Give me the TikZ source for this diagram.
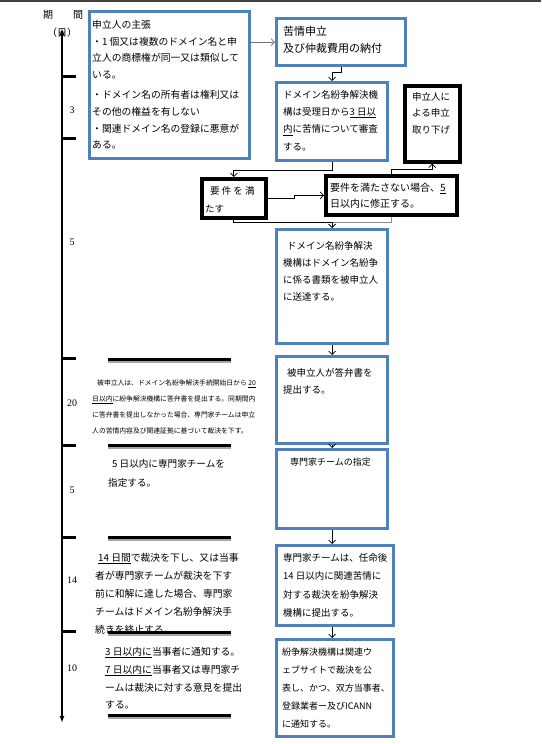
\documentclass[tikz,border=0pt]{standalone}
\usepackage{fontspec}
\setmainfont{Liberation Serif}
\newfontfamily\cjk{Noto Sans CJK JP}
\usepackage{xcolor}
\usepackage{tikz}
\usetikzlibrary{arrows.meta,positioning}
\definecolor{boxblue}{RGB}{79,129,189}

\begin{document}
\begin{tikzpicture}[x=1pt,y=-1pt,
  bluebox/.style={draw=boxblue,line width=3.2pt,anchor=north west,inner sep=0pt},
  blackbox/.style={draw=black,line width=3.6pt,anchor=north west,inner sep=0pt},
  txt/.style={inner sep=0pt,align=left,font=\cjk\fontsize{9.5}{17}\selectfont},
  sidetxt/.style={txt,anchor=north west},
  conn/.style={-{Straight Barb[length=3.5pt,width=7pt]},line width=0.7pt}]
\useasboundingbox (0,0) rectangle (541,744);
\draw[black!75,line width=1.5pt] (0,1.2)--(541,1.2);
\node[font=\cjk\fontsize{10}{12}\selectfont] (head) at (63,15) {期　　間};
\node[font=\cjk\fontsize{10}{12}\selectfont] (unit) at (62,33) {（日）};
\draw[line width=1.6pt,{Latex[length=7pt,width=5pt]}-{Latex[length=7pt,width=5pt]}] (62,28)--(62,723);
\foreach \y in {76,138,358,445,537,631} \draw[line width=3pt] (62,\y)--(76,\y);
\foreach \y/\d [count=\i] in {110/3,242/5,403/20,490/5,580/14,668/10} \node[font=\fontsize{10}{12}\selectfont] (d\i) at (72,\y) {\d};
\foreach \y in {359,445,537,632,715} {\draw[black!35,line width=2pt] (108,\y+2.5)--(231,\y+2.5); \draw[line width=3pt] (108,\y)--(231,\y);}
\node[bluebox,minimum width=160,minimum height=147] (claim) at (88,10) {};
\node[txt,font=\cjk\fontsize{9.8}{16.6}\selectfont,below right=10pt and 4pt of claim.north west] (claimtxt) {申立人の主張\\・1 個又は複数のドメイン名と申\\立人の商標権が同一又は類似して\\いる。\\[4pt]・ドメイン名の所有者は権利又は\\その他の権益を有しない\\・関連ドメイン名の登録に悪意が\\ある。};
\node[bluebox,minimum width=129,minimum height=47] (complaint) at (275,17) {};
\node[txt,font=\cjk\fontsize{11}{17}\selectfont,below right=9pt and 8pt of complaint.north west] (complainttxt) {苦情申立\\及び仲裁費用の納付};
\node[bluebox,minimum width=111,minimum height=78] (review) at (275,81) {};
\node[txt,font=\cjk\fontsize{9.5}{17.3}\selectfont,below right=9pt and 8pt of review.north west] (reviewtxt) {ドメイン名紛争解決機\\構は受理日から\underline{3 日以}\\\underline{内}に苦情について審査\\する。};
\node[blackbox,minimum width=55,minimum height=76] (withdraw) at (403,84) {};
\node[txt,font=\cjk\fontsize{9.5}{16.5}\selectfont,below right=8pt and 9pt of withdraw.north west] (withdrawtxt) {申立人に\\よる申立\\取り下げ};
\node[blackbox,minimum width=64,minimum height=39] (meet) at (200,177) {};
\node[txt,font=\cjk\fontsize{9.5}{18}\selectfont,below right=9pt and 5pt of meet.north west] (meettxt) {\hspace{5pt}要 件 を 満\\たす};
\node[blackbox,minimum width=131,minimum height=39] (fix) at (324,174) {};
\node[txt,font=\cjk\fontsize{10}{16}\selectfont,below right=9pt and 6pt of fix.north west] (fixtxt) {要件を満たさない場合、\underline{5}\\日以内に修正する。};
\node[bluebox,minimum width=111,minimum height=114] (serve) at (275,228) {};
\node[txt,below right=13pt and 8pt of serve.north west] (servetxt) {\hspace{4pt}ドメイン名紛争解決\\機構はドメイン名紛争\\に係る書類を被申立人\\に送達する。};
\node[bluebox,minimum width=111,minimum height=87] (answer) at (275,355) {};
\node[txt,below right=13pt and 8pt of answer.north west] (answertxt) {\hspace{4pt}被申立人が答弁書を\\提出する。};
\node[bluebox,minimum width=111,minimum height=79] (appoint) at (275,448) {};
\node[txt,font=\cjk\fontsize{9}{17}\selectfont,below right=10pt and 15pt of appoint.north west] (appointtxt) {専門家チームの指定};
\node[bluebox,minimum width=117,minimum height=80] (decide) at (275,544) {};
\node[txt,font=\cjk\fontsize{9.5}{18.5}\selectfont,below right=9pt and 8pt of decide.north west] (decidetxt) {専門家チームは、任命後\\14 日以内に関連苦情に\\対する裁決を紛争解決\\機構に提出する。};
\node[bluebox,minimum width=117,minimum height=97] (publish) at (275,638) {};
\node[txt,font=\cjk\fontsize{9}{18}\selectfont,below right=10pt and 7pt of publish.north west] (publishtxt) {紛争解決機構は関連ウ\\ェブサイトで裁決を公\\表し、かつ、双方当事者、\\登録業者ー及びICANN\\に通知する。};
\node[sidetxt,font=\cjk\fontsize{6.8}{15.7}\selectfont] (days20) at (92,380) {\hspace{5pt}被申立人は、ドメイン名紛争解決手続開始日から \underline{20}\\\underline{日以内}に紛争解決機構に答弁書を提出する。同期間内\\に答弁書を提出しなかった場合、専門家チームは申立\\人の苦情内容及び関連証拠に基づいて裁決を下す。};
\node[sidetxt,font=\cjk\fontsize{9.6}{19}\selectfont] (days5) at (108,459) {\hspace{4pt}5 日以内に専門家チームを\\指定する。};
\node[sidetxt,font=\cjk\fontsize{9.8}{18}\selectfont] (days14) at (95,553) {\hspace{3pt}\underline{14 日間}で裁決を下し、又は当事\\者が専門家チームが裁決を下す\\前に和解に達した場合、専門家\\チームはドメイン名紛争解決手\\続きを終止する。};
\node[sidetxt,font=\cjk\fontsize{9.8}{17.8}\selectfont] (days10) at (105,647) {\underline{3 日以内に}当事者に通知する。\\\underline{7 日以内に}当事者又は専門家チ\\ームは裁決に対する意見を提出\\する。};
\draw[conn,black!55] (claim.east |- complaint.west)--(complaint.west);
\draw[conn] (complaint.south)--++(0,5) -| (review.north);
\draw[conn] (review.south)--++(0,8) -| (meet.north);
\draw[conn] (meet.east)--++(27,0) |- (fix.west);
\draw[conn] (fix.north)--++(0,-5) -| (withdraw.south);
\draw[conn,black!45] (fix.south)--++(0,6) -| (serve.north);
\draw[conn] (meet.south)--++(0,3) -| (serve.north);
\draw[conn] (serve.south)--(answer.north);
\draw[conn] (answer.south)--(appoint.north);
\draw[conn] (appoint.south)--(appoint.south |- decide.north);
\draw[conn] (appoint.south |- decide.south)--(appoint.south |- publish.north);
\end{tikzpicture}
\end{document}
